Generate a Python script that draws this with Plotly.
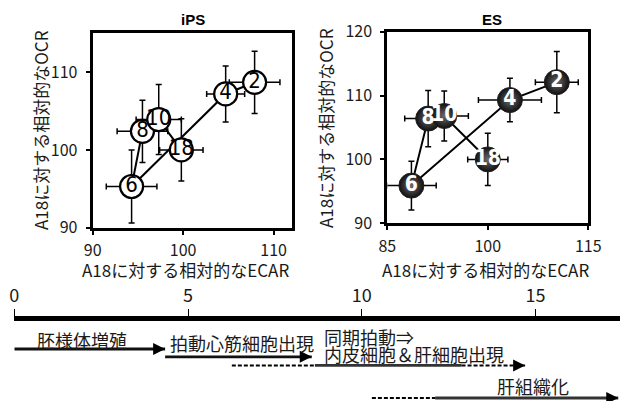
import plotly.graph_objects as go

# ---------------- data ----------------
days = ["2", "4", "6", "8", "10", "18"]

ips_ecar = [107.9, 104.7, 94.3, 95.5, 97.3, 99.8]
ips_ocr = [108.7, 107.2, 95.3, 102.4, 103.9, 100.0]
ips_ecar_err = [2.8, 2.1, 2.8, 2.8, 2.5, 2.4]
ips_ocr_err = [4.0, 3.6, 4.7, 4.0, 4.5, 4.0]

es_ecar = [110.3, 103.3, 88.6, 91.1, 93.5, 100.0]
es_ocr = [112.1, 109.3, 95.9, 106.4, 106.8, 100.0]
es_ecar_err = [3.2, 4.7, 3.7, 3.5, 3.6, 3.0]
es_ocr_err = [4.8, 3.4, 3.8, 4.4, 3.9, 4.1]

ips_xticks = [90, 100, 110]
ips_yticks = [90, 100, 110]
es_xticks = [85, 100, 115]
es_yticks = [90, 100, 110, 120]

timeline_ticks = [0, 5, 10, 15]
phase_names = ["胚様体増殖", "拍動心筋細胞出現", "同期拍動⇒", "内皮細胞＆肝細胞出現", "肝組織化"]
dash_start = [None, None, 6.26, 10.29]
solid_start = [0.0, 4.34, 8.65, 12.11]
solid_end = [4.34, 8.56, 12.87, 17.38]
arrow_end = [4.34, 8.56, 14.70, 17.38]
lane = [1.41, 1.80, 2.23, 3.86]

x_title = "A18に対する相対的なECAR"
y_title = "A18に対する相対的なOCR"

# ---------------- figure ----------------
W, H = 620, 401
TXT = "#1a1a1a"
JP = "Noto Sans CJK JP, Noto Sans, sans-serif"
NUM = "Liberation Sans Narrow, DejaVu Sans Condensed, Liberation Sans, sans-serif"

fig = go.Figure()

err_style = dict(type="data", thickness=1.5, width=3, color="black")

fig.add_trace(go.Scatter(
    x=ips_ecar, y=ips_ocr, text=days, xaxis="x", yaxis="y",
    mode="lines+markers+text", textposition="middle center",
    textfont=dict(family=NUM, size=22, color="black"),
    line=dict(color="black", width=2),
    marker=dict(size=23, color="white", line=dict(color="black", width=2.2)),
    error_x=dict(array=ips_ecar_err, **err_style),
    error_y=dict(array=ips_ocr_err, **err_style),
    showlegend=False, cliponaxis=False,
))

fig.add_trace(go.Scatter(
    x=es_ecar, y=es_ocr, text=days, xaxis="x2", yaxis="y2",
    mode="lines+markers+text", textposition="middle center",
    textfont=dict(family=NUM, size=21, color="white", weight="bold"),
    line=dict(color="black", width=2),
    marker=dict(size=25, color="#101010",
                gradient=dict(type="radial", color="#6a6a6a"),
                line=dict(color="#222", width=1)),
    error_x=dict(array=es_ecar_err, **err_style),
    error_y=dict(array=es_ocr_err, **err_style),
    showlegend=False, cliponaxis=False,
))

# timeline lines
for i in range(len(solid_start)):
    if dash_start[i] is not None:
        fig.add_trace(go.Scatter(
            x=[dash_start[i], solid_start[i]], y=[lane[i], lane[i]],
            xaxis="x3", yaxis="y3", mode="lines",
            line=dict(color="black", width=2, dash="4px,2px"),
            showlegend=False, hoverinfo="skip"))
    fig.add_trace(go.Scatter(
        x=[solid_start[i], solid_end[i]], y=[lane[i], lane[i]],
        xaxis="x3", yaxis="y3", mode="lines",
        line=dict(color="#111" if i < 2 else "#333", width=2.8),
        showlegend=False, hoverinfo="skip"))
    if arrow_end[i] > solid_end[i]:
        fig.add_trace(go.Scatter(
            x=[solid_end[i], arrow_end[i]], y=[lane[i], lane[i]],
            xaxis="x3", yaxis="y3", mode="lines",
            line=dict(color="black", width=2, dash="4px,2px"),
            showlegend=False, hoverinfo="skip"))
    fig.add_annotation(
        x=arrow_end[i], y=lane[i], ax=arrow_end[i] - 0.2, ay=lane[i],
        xref="x3", yref="y3", axref="x3", ayref="y3",
        showarrow=True, arrowhead=2, arrowsize=1.2, arrowwidth=2,
        arrowcolor="black", text="", standoff=0)

axis_common = dict(showline=True, mirror=True, linecolor="black", linewidth=3,
                   ticks="outside", ticklen=4, tickwidth=1.5, tickcolor="black",
                   showgrid=False, zeroline=False, automargin=False,
                   tickfont=dict(family=JP, size=16, color=TXT))

fig.update_layout(
    width=W, height=H, margin=dict(l=0, r=0, t=0, b=0, pad=0, autoexpand=False),
    paper_bgcolor="white", plot_bgcolor="white", showlegend=False,
    xaxis=dict(domain=[92.7 / W, 291.7 / W], range=[90, 112], tickvals=ips_xticks,
               anchor="y", ticklabelstandoff=2, **axis_common),
    yaxis=dict(domain=[1 - 227.7 / H, 1 - 33.3 / H], range=[90, 115], tickvals=ips_yticks,
               anchor="x", ticklabelstandoff=5, **axis_common),
    xaxis2=dict(domain=[387.3 / W, 588.3 / W], range=[85, 115], tickvals=es_xticks,
                anchor="y2", ticklabelstandoff=2, **axis_common),
    yaxis2=dict(domain=[1 - 223.3 / H, 1 - 31.7 / H], range=[90, 120], tickvals=es_yticks,
                anchor="x2", ticklabelstandoff=5, **axis_common),
    xaxis3=dict(domain=[14.3 / W, 1], range=[0, 17.43], side="top", anchor="y3",
                tickvals=timeline_ticks, showline=True, linecolor="black", linewidth=4.5,
                ticks="outside", ticklen=7, tickwidth=1.2, tickcolor="black",
                showgrid=False, zeroline=False, automargin=False,
                tickfont=dict(family=JP, size=18, color=TXT)),
    yaxis3=dict(domain=[0, 1 - 320.8 / H], range=[4.01, 0], visible=False,
                anchor="x3", automargin=False),
)

# titles
for xc, name in [(192.5, "iPS"), (492, "ES")]:
    fig.add_annotation(x=xc / W, y=1 - 19 / H, xref="paper", yref="paper", text=name,
                       showarrow=False, xanchor="center", yanchor="middle",
                       font=dict(family="Liberation Sans, sans-serif", size=15,
                                 color="black", weight="bold"))

# axis titles
for xc, yc in [(40, 130), (325, 128)]:
    fig.add_annotation(x=xc / W, y=1 - yc / H, xref="paper", yref="paper", text=y_title,
                       textangle=-90, showarrow=False, xanchor="center", yanchor="middle",
                       font=dict(family=JP, size=17, color=TXT))
for xc in [185, 485]:
    fig.add_annotation(x=xc / W, y=1 - 269 / H, xref="paper", yref="paper", text=x_title,
                       showarrow=False, xanchor="center", yanchor="middle",
                       font=dict(family=JP, size=17, color=TXT))

# timeline labels
tl_font = dict(family=JP, size=18, color=TXT)
fig.add_annotation(x=1.96, y=0.96, xref="x3", yref="y3", text=phase_names[0],
                   showarrow=False, xanchor="center", yanchor="middle", font=tl_font)
fig.add_annotation(x=4.43, y=1.11, xref="x3", yref="y3", text=phase_names[1],
                   showarrow=False, xanchor="left", yanchor="middle", font=tl_font)
fig.add_annotation(x=8.85, y=0.80, xref="x3", yref="y3", text=phase_names[2],
                   showarrow=False, xanchor="left", yanchor="middle", font=tl_font)
fig.add_annotation(x=8.85, y=1.66, xref="x3", yref="y3", text=phase_names[3],
                   showarrow=False, xanchor="left", yanchor="middle", font=tl_font)
fig.add_annotation(x=13.83, y=3.26, xref="x3", yref="y3", text=phase_names[4],
                   showarrow=False, xanchor="left", yanchor="middle", font=tl_font)

fig.write_html("out.html", config={"displayModeBar": False},
               post_script="document.body.style.margin='0';document.body.style.overflow='hidden';")
